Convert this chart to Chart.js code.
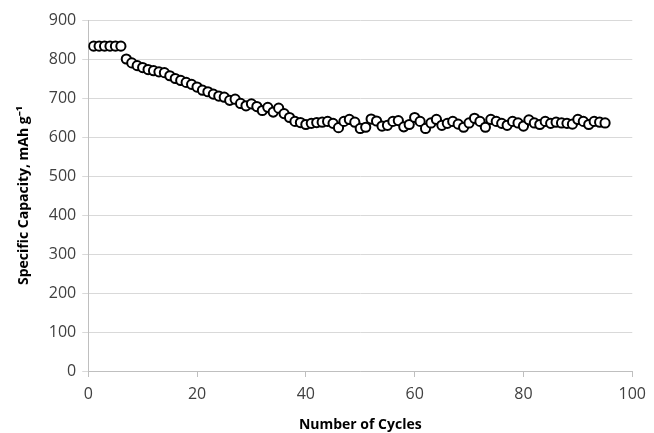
<!DOCTYPE html>
<html>
<head>
<meta charset="utf-8">
<script src="https://cdn.jsdelivr.net/npm/chart.js@4"></script>
<style>
  html, body { margin: 0; padding: 0; background: #fff; }
  #wrap { width: 654px; height: 433px; }
</style>
</head>
<body>
<div id="wrap"><canvas id="grafico" width="654" height="433"></canvas></div>
<script>
// ciclos 1..95
var ciclos = [];
for (var i = 1; i <= 95; i++) ciclos.push(i);

var capacidade = [
  833, 833, 833, 833, 833, 833, 800, 790, 783, 778,
  773, 770, 767, 765, 757, 750, 745, 740, 735, 728,
  720, 716, 710, 705, 702, 694, 697, 686, 680, 685,
  678, 668, 676, 664, 674, 660, 650, 640, 637, 632,
  635, 637, 638, 640, 635, 624, 640, 645, 638, 622,
  625, 646, 641, 628, 630, 640, 642, 626, 632, 650,
  640, 622, 636, 645, 630, 635, 640, 633, 625, 636,
  648, 640, 625, 645, 640, 635, 630, 640, 636, 628,
  644, 636, 632, 640, 635, 638, 636, 635, 633, 645,
  640, 632, 640, 638, 636
];

var xTicks = [0, 20, 40, 60, 80, 100];
var yTicks = [0, 100, 200, 300, 400, 500, 600, 700, 800, 900];

var pontos = ciclos.map(function (c, i) { return { x: c, y: capacidade[i] }; });

var ctx = document.getElementById('grafico').getContext('2d');

var grafico = new Chart(ctx, {
  type: 'scatter',
  data: {
    datasets: [{
      label: 'Specific Capacity',
      data: pontos,
      pointRadius: 4.6,
      pointBorderWidth: 2,
      pointBorderColor: '#000',
      pointBackgroundColor: '#fff',
      showLine: false
    }]
  },
  options: {
    responsive: false,
    animation: false,
    layout: { padding: { top: 20, right: 19, left: 12, bottom: 0 } },
    plugins: {
      legend: { display: false },
      tooltip: { enabled: false }
    },
    scales: {
      x: {
        type: 'linear',
        min: 0,
        max: 100,
        afterBuildTicks: function (ax) { ax.ticks = xTicks.map(function (v) { return { value: v }; }); },
        grid: { drawOnChartArea: false, color: '#bfbfbf', tickLength: 6 },
        border: { color: '#bfbfbf' },
        ticks: { color: '#404040', font: { family: 'Open Sans', size: 16 }, padding: 8, maxRotation: 0 },
        title: { display: true, text: 'Number of Cycles', color: '#000', font: { family: 'Open Sans', size: 14, weight: 'bold' }, padding: { top: 4, bottom: 0 } }
      },
      y: {
        min: 0,
        max: 900,
        afterBuildTicks: function (ax) { ax.ticks = yTicks.map(function (v) { return { value: v }; }); },
        grid: { color: '#d9d9d9', tickLength: 6 },
        border: { color: '#bfbfbf' },
        ticks: { color: '#404040', font: { family: 'Open Sans', size: 16 }, padding: 6 },
        title: { display: true, text: 'Specific Capacity, mAh g⁻¹', color: '#000', font: { family: 'Open Sans', size: 14, weight: 'bold' }, padding: { bottom: 10 } }
      }
    }
  }
});
</script>
</body>
</html>
